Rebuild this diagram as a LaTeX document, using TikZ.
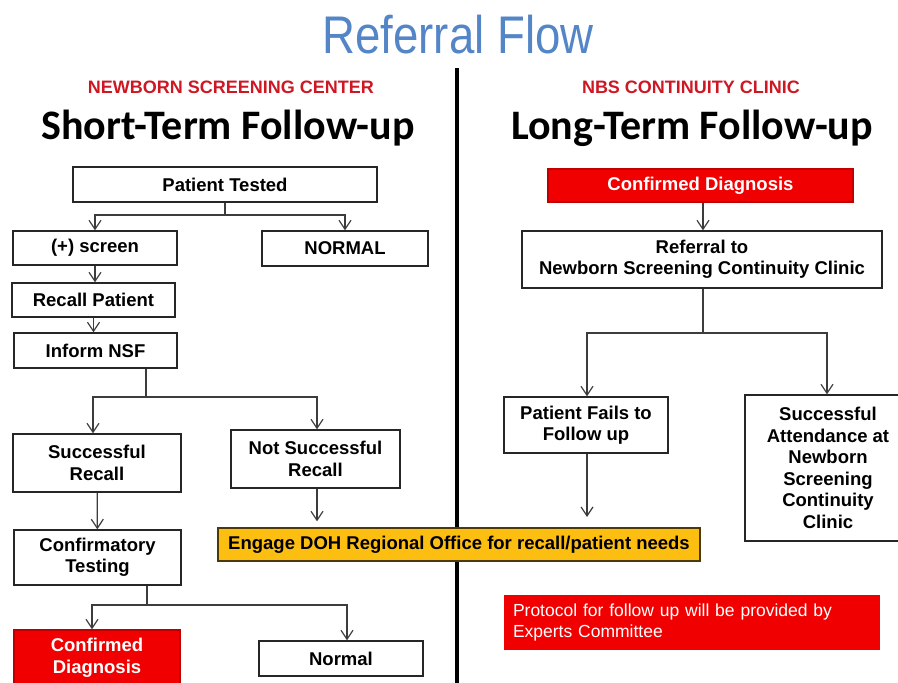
\documentclass[tikz,border=0pt]{standalone}
\usepackage{fontspec}
\setmainfont{Liberation Sans}
\newfontfamily\headfont{Carlito}
\newfontfamily\narrowfont[FakeStretch=0.86]{Liberation Sans}
\usetikzlibrary{arrows.meta}
\definecolor{titleblue}{RGB}{84,134,199}
\definecolor{hdrred}{RGB}{205,24,36}
\definecolor{boxred}{RGB}{240,0,0}
\definecolor{engorange}{RGB}{252,190,16}
\definecolor{linegray}{RGB}{60,60,60}

\begin{document}
\begin{tikzpicture}[x=1pt,y=-1pt,
    box/.style={draw=black!85,line width=1.4pt,fill=white,align=center,inner sep=0pt,
      font=\bfseries\fontsize{18.5}{21.5}\selectfont},
    redbox/.style={box,fill=boxred,draw=boxred!80!black,text=white},
    arr/.style={draw=linegray,line width=1.2pt,-{Straight Barb[length=9pt,width=12pt]}},
    link/.style={draw=linegray,line width=1.2pt},
    hdr/.style={text=hdrred,font=\bfseries\fontsize{18}{20}\selectfont},
    term/.style={font=\headfont\bfseries\fontsize{42}{46}\selectfont}]
  \useasboundingbox (0,0) rectangle (898,683);
  \clip (0,0) rectangle (898,683);
  \draw[line width=4pt] (457,68) -- (457,690);
  \node[text=titleblue,font=\narrowfont\fontsize{53}{56}\selectfont] (title) at (458,35) {Referral Flow};
  \node[hdr] (hdrA) at (231,87) {NEWBORN SCREENING CENTER};
  \node[hdr] (hdrB) at (691,87) {NBS CONTINUITY CLINIC};
  \node[term] (termA) at (228,128) {Short-Term Follow-up};
  \node[term] (termB) at (692,128) {Long-Term Follow-up};

  \node[box,minimum width=304pt,minimum height=35pt] (tested) at (225,184.5) {Patient Tested};
  \node[box,minimum width=164pt,minimum height=34pt] (screen) at (95,248) {(+) screen};
  \node[box,minimum width=166pt,minimum height=35pt] (normalA) at (345,248.5) {NORMAL};
  \node[box,minimum width=163pt,minimum height=34pt] (recall) at (93.5,300) {Recall Patient};
  \node[box,minimum width=163pt,minimum height=35pt] (inform) at (95.5,350.5) {Inform NSF};
  \node[box,minimum width=168pt,minimum height=58pt] (succ) at (97,463) {Successful\\Recall};
  \node[box,minimum width=169pt,minimum height=58pt] (notsucc) at (315.5,459) {Not Successful\\Recall};
  \node[box,minimum width=167pt,minimum height=55pt] (confirm) at (97.5,557.5) {Confirmatory\\Testing};
  \node[box,fill=engorange,draw=black!70!engorange,minimum width=482pt,minimum height=33pt] (engage) at (459,544.5) {Engage DOH Regional Office for recall/patient needs};
  \node[redbox,minimum width=166pt,minimum height=56pt] (diagA) at (97,658) {Confirmed\\Diagnosis};
  \node[box,minimum width=164pt,minimum height=35pt] (normalB) at (341,658.5) {Normal};

  \node[redbox,minimum width=305pt,minimum height=33pt] (diagB) at (700.5,185.5) {Confirmed Diagnosis};
  \node[box,minimum width=360pt,minimum height=57pt] (referral) at (702,259.5) {Referral to\\Newborn Screening Continuity Clinic};
  \node[box,minimum width=164pt,minimum height=56pt] (fails) at (586,425) {Patient Fails to\\Follow up};
  \node[box,minimum width=166pt,minimum height=146pt] (attend) at (828,468) {Successful\\Attendance at\\Newborn\\Screening\\Continuity\\Clinic};
  \node[fill=boxred,minimum width=376pt,minimum height=55pt,text width=358pt,align=left,text=white,
    font=\fontsize{17.5}{21}\selectfont] (protocol) at (692,622.5) {Protocol for follow up will be provided by\\Experts Committee};

  \coordinate (j1) at (225,215);
  \coordinate (j3) at (146,397);
  \coordinate (j5) at (147,605);
  \coordinate (j6) at (703,333);
  \coordinate (failend) at (587,517);
  \draw[link] (tested) -- (j1);
  \draw[arr] (j1) -| (screen);
  \draw[arr] (j1) -| (normalA);
  \draw[arr] (screen) -- (recall.north -| screen);
  \draw[arr] (recall) -- (inform.north -| recall);
  \draw[link] (inform.south -| j3) -- (j3);
  \draw[arr] (j3) -| (succ.north -| 93,0);
  \draw[arr] (j3) -| (notsucc.north -| 317,0);
  \draw[arr] (succ) -- (confirm);
  \draw[arr,shorten >=6pt] (notsucc.south -| 317,0) -- (engage.north -| 317,0);
  \draw[link] (confirm.south -| j5) -- (j5);
  \draw[arr] (j5) -| (diagA.north -| 92,0);
  \draw[arr] (j5) -| (normalB.north -| 347,0);
  \draw[arr] (diagB.south -| 703,0) -- (referral.north -| 703,0);
  \draw[link] (referral.south -| j6) -- (j6);
  \draw[arr] (j6) -| (fails.north -| 587,0);
  \draw[arr] (j6) -| (attend.north -| 827,0);
  \draw[arr] (fails.south -| failend) -- (failend);
\end{tikzpicture}
\end{document}
